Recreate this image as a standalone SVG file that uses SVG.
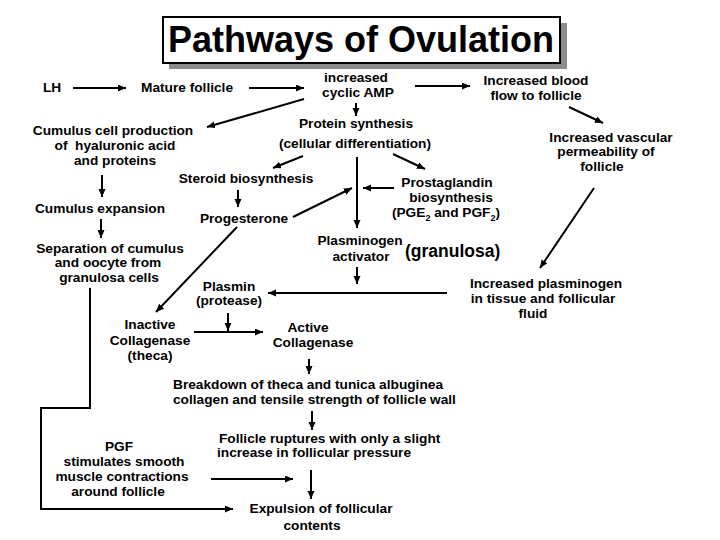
<svg xmlns="http://www.w3.org/2000/svg" width="720" height="540" viewBox="0 0 720 540">
<defs>
<marker id="ah" markerUnits="userSpaceOnUse" markerWidth="9" markerHeight="8" refX="8" refY="3.5" orient="auto">
<path d="M0,0 L8,3.5 L0,7 z" fill="#000"/>
</marker>
<style>
text{font-family:"Liberation Sans",Arial,sans-serif;font-weight:bold;font-size:13.7px;fill:#000}
.m{text-anchor:middle}
.c line,.c polyline{stroke:#000;stroke-width:2;fill:none}
.a{marker-end:url(#ah)}
</style>
</defs>
<rect width="720" height="540" fill="#fff"/>
<g id="title">
<rect x="169" y="23" width="398" height="46" fill="#8c8c8c"/>
<rect x="163" y="17" width="397" height="46" fill="#fff" stroke="#000" stroke-width="2"/>
<text x="361" y="52" class="m" style="font-size:36px">Pathways of Ovulation</text>
</g>
<g class="c" id="connectors">
<line class="a" x1="73" y1="88" x2="126" y2="88"/>
<line class="a" x1="249" y1="88" x2="304" y2="88"/>
<line class="a" x1="415" y1="86" x2="470" y2="86"/>
<line class="a" x1="569" y1="107" x2="603" y2="123"/>
<line class="a" x1="356" y1="103" x2="356" y2="116"/>
<line class="a" x1="304" y1="99" x2="207" y2="127"/>
<line class="a" x1="303" y1="156" x2="273" y2="168"/>
<line class="a" x1="393" y1="154" x2="425" y2="169"/>
<line class="a" x1="357" y1="157" x2="357" y2="228"/>
<line class="a" x1="394" y1="188" x2="363" y2="188"/>
<line class="a" x1="293" y1="217" x2="352" y2="188"/>
<line class="a" x1="102" y1="175" x2="102" y2="197"/>
<line class="a" x1="238" y1="190" x2="238" y2="207"/>
<line class="a" x1="237" y1="227" x2="156" y2="312"/>
<line class="a" x1="101" y1="219" x2="101" y2="238"/>
<line class="a" x1="357" y1="267" x2="357" y2="284"/>
<line class="a" x1="447" y1="293" x2="268" y2="293"/>
<line class="a" x1="594" y1="188" x2="540" y2="268"/>
<line class="a" x1="228" y1="313" x2="228" y2="331"/>
<line class="a" x1="194" y1="332" x2="263" y2="332"/>
<line class="a" x1="309" y1="359" x2="309" y2="374"/>
<line class="a" x1="312" y1="411" x2="312" y2="430"/>
<line class="a" x1="311" y1="470" x2="311" y2="499"/>
<line class="a" x1="211" y1="479" x2="293" y2="479"/>
<polyline class="a" points="90,288 90,408 41,408 41,509 233,509"/>
</g>
<g id="lh"><text x="43" y="92">LH</text></g>
<g id="mature"><text x="141" y="92">Mature follicle</text></g>
<g id="camp"><text x="356" y="82" class="m">increased</text><text x="358" y="97" class="m">cyclic AMP</text></g>
<g id="blood"><text x="536" y="85" class="m">Increased blood</text><text x="536" y="100" class="m">flow to follicle</text></g>
<g id="vascular"><text x="611" y="142" class="m">Increased vascular</text><text x="606" y="156" class="m">permeability of</text><text x="602" y="171" class="m">follicle</text></g>
<g id="protein"><text x="356" y="128" class="m">Protein synthesis</text><text x="355" y="148" class="m">(cellular differentiation)</text></g>
<g id="cumulus-cell"><text x="113" y="135" class="m">Cumulus cell production</text><text x="115" y="150" class="m" xml:space="preserve">of  hyaluronic acid</text><text x="115" y="165" class="m">and proteins</text></g>
<g id="steroid"><text x="246" y="183" class="m">Steroid biosynthesis</text></g>
<g id="progesterone"><text x="244" y="223" class="m">Progesterone</text></g>
<g id="prostaglandin"><text x="447" y="187" class="m">Prostaglandin</text><text x="451" y="202" class="m">biosynthesis</text><text x="446" y="217" class="m">(PGE<tspan dy="4" style="font-size:9px">2</tspan><tspan dy="-4"> and PGF</tspan><tspan dy="4" style="font-size:9px">2</tspan><tspan dy="-4">)</tspan></text></g>
<g id="expansion"><text x="100" y="213" class="m">Cumulus expansion</text></g>
<g id="separation"><text x="110" y="253" class="m">Separation of cumulus</text><text x="108" y="267" class="m">and oocyte from</text><text x="109" y="282" class="m">granulosa cells</text></g>
<g id="pa"><text x="360" y="245" class="m">Plasminogen</text><text x="361" y="261" class="m">activator</text><text x="405" y="257" style="font-size:17.5px">(granulosa)</text></g>
<g id="plasminogen"><text x="546" y="288" class="m">Increased plasminogen</text><text x="543" y="303" class="m">in tissue and follicular</text><text x="533" y="318" class="m">fluid</text></g>
<g id="plasmin"><text x="229" y="291" class="m">Plasmin</text><text x="229" y="305" class="m">(protease)</text></g>
<g id="inactive"><text x="150" y="329" class="m">Inactive</text><text x="150" y="345" class="m">Collagenase</text><text x="150" y="360" class="m">(theca)</text></g>
<g id="active"><text x="308" y="332" class="m">Active</text><text x="313" y="347" class="m">Collagenase</text></g>
<g id="breakdown"><text x="173" y="389">Breakdown of theca and tunica albuginea</text><text x="173" y="404">collagen and tensile strength of follicle wall</text></g>
<g id="rupture"><text x="219" y="443">Follicle ruptures with only a slight</text><text x="217" y="457">increase in follicular pressure</text></g>
<g id="pgf"><text x="119" y="451" class="m">PGF</text><text x="124" y="466" class="m">stimulates smooth</text><text x="122" y="481" class="m">muscle contractions</text><text x="118" y="496" class="m">around follicle</text></g>
<g id="expulsion"><text x="321" y="513" class="m">Expulsion of follicular</text><text x="312" y="529.5" class="m">contents</text></g>
</svg>
